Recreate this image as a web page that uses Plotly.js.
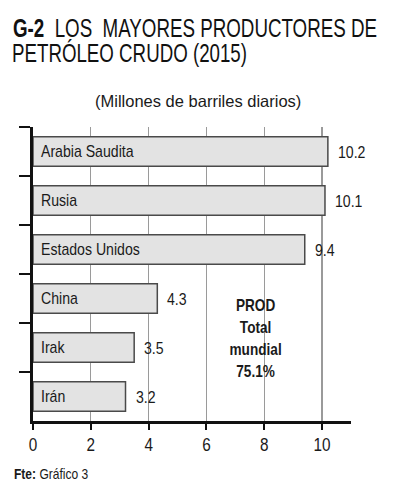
<!DOCTYPE html>
<html>
<head>
<meta charset="utf-8">
<script src="https://cdn.plot.ly/plotly-3.0.1.min.js"></script>
<style>
  html, body { margin: 0; padding: 0; background: #fff; }
  #chart { width: 394px; height: 500px; }
</style>
</head>
<body>
<div id="chart"></div>
<script>
const countries = ["Arabia Saudita", "Rusia", "Estados Unidos", "China", "Irak", "Irán"];
const production = [10.2, 10.1, 9.4, 4.3, 3.5, 3.2];
const valueLabels = ["10.2", "10.1", "9.4", "4.3", "3.5", "3.2"];
const xTicks = [0, 2, 4, 6, 8, 10];
const xTickLabels = ["0", "2", "4", "6", "8", "10"];

const FONT = '"Liberation Sans", Arial, Helvetica, sans-serif';

const trace = {
  type: 'bar',
  orientation: 'h',
  y: countries,
  x: production,
  width: 0.6,
  marker: { color: '#e3e3e3', line: { color: '#4a4a4a', width: 1.5 } },
  hoverinfo: 'skip'
};

const annotations = [];
countries.forEach((c, i) => {
  annotations.push({
    x: 0, y: c, xref: 'x', yref: 'y', text: c, showarrow: false,
    xanchor: 'left', yanchor: 'middle', align: 'left', xshift: 6,
    font: { family: FONT, size: 17, color: '#1a1a1a' }, name: 'cond'
  });
  annotations.push({
    x: production[i], y: c, xref: 'x', yref: 'y', text: valueLabels[i], showarrow: false,
    xanchor: 'left', yanchor: 'middle', align: 'left', xshift: 8, yshift: -1,
    font: { family: FONT, size: 17, color: '#1a1a1a' }, name: 'cond'
  });
});

annotations.push({
  xref: 'paper', yref: 'paper', x: (9 - 32.5) / 318.5, y: 1 + (127 - 53) / 294, xanchor: 'left', yanchor: 'middle',
  align: 'left', text: 'PETRÓLEO CRUDO (2015)', showarrow: false,
  font: { family: FONT, size: 26, color: '#111' }, name: 'title2'
});
annotations.push({
  xref: 'paper', yref: 'paper', x: (197.5 - 32.5) / 318.5, y: 1 + (127 - 101) / 294, xanchor: 'center', yanchor: 'middle',
  text: '(Millones de barriles diarios)', showarrow: false,
  font: { family: FONT, size: 16.5, color: '#1a1a1a' }, name: 'plain'
});
annotations.push({
  xref: 'x', yref: 'paper', x: 7.69, y: 1 - (338.5 - 127) / 294, xanchor: 'center', yanchor: 'middle',
  text: '<b>PROD<br>Total<br>mundial<br>75.1%</b>', showarrow: false,
  font: { family: FONT, size: 17, color: '#1a1a1a' }, name: 'block'
});
annotations.push({
  xref: 'paper', yref: 'paper', x: (11.5 - 32.5) / 318.5, y: -(474 - 421) / 294, xanchor: 'left', yanchor: 'middle',
  align: 'left', text: '<b>Fte:</b> Gráfico 3', showarrow: false,
  font: { family: FONT, size: 14.5, color: '#1a1a1a' }, name: 'cond'
});

const layout = {
  width: 394, height: 500,
  margin: { l: 32.5, r: 43, t: 127, b: 79, pad: 0 },
  paper_bgcolor: '#ffffff', plot_bgcolor: '#ffffff',
  showlegend: false,
  title: {
    text: '<b>G-2</b>\u00a0 LOS\u00a0 MAYORES PRODUCTORES DE',
    xref: 'container', yref: 'container', x: 13 / 394, xanchor: 'left',
    y: 1 - 28 / 500, yanchor: 'middle',
    font: { family: FONT, size: 26, color: '#111' }
  },
  xaxis: {
    range: [0, 11], tickvals: xTicks, ticktext: xTickLabels,
    showgrid: true, gridcolor: '#9a9a9a', gridwidth: 1.3,
    zeroline: false, showline: true, linecolor: '#111', linewidth: 3,
    ticks: 'outside', ticklen: 6, tickwidth: 2, tickcolor: '#111',
    tickfont: { family: FONT, size: 18, color: '#1a1a1a' },
    fixedrange: true
  },
  yaxis: {
    type: 'category', categoryorder: 'array', categoryarray: countries,
    autorange: 'reversed', showticklabels: false,
    tickson: 'boundaries', ticks: 'outside', ticklen: 11, tickwidth: 2, tickcolor: '#111',
    showgrid: false, zeroline: false, showline: true, linecolor: '#111', linewidth: 3,
    fixedrange: true
  },
  annotations: annotations
};

// Condense glyphs horizontally to mimic a condensed Helvetica (text stays real SVG text).
function squeeze(el, factor) {
  const len = el.getComputedTextLength();
  if (len > 0) {
    el.setAttribute('textLength', (len * factor).toFixed(2));
    el.setAttribute('lengthAdjust', 'spacingAndGlyphs');
  }
}
function squeezeTo(el, width) {
  el.setAttribute('textLength', width);
  el.setAttribute('lengthAdjust', 'spacingAndGlyphs');
}

Plotly.newPlot('chart', [trace], layout, { displayModeBar: false, staticPlot: true }).then(gd => {
  const annEls = gd.querySelectorAll('.annotation');
  annEls.forEach((g, idx) => {
    const opt = layout.annotations[idx];
    const txt = g.querySelector('text.annotation-text');
    if (!txt || !opt) return;
    if (opt.name === 'cond') squeeze(txt, 0.83);
    else if (opt.name === 'title2') squeezeTo(txt, 235);
    else if (opt.name === 'block') {
      const lines = txt.querySelectorAll('tspan.line');
      if (lines.length) lines.forEach(l => squeeze(l, 0.8));
      else squeeze(txt, 0.8);
    }
  });
  const title = gd.querySelector('.gtitle');
  if (title) squeezeTo(title, 364);
  // keep x tick labels a fixed distance below the axis line
  const top = gd.getBoundingClientRect().top;
  gd.querySelectorAll('.xtick text').forEach(t => {
    squeeze(t, 0.85);
    const r = t.getBoundingClientRect();
    const centre = r.top - top + r.height / 2;
    const delta = 445 - centre;
    const y0 = parseFloat(t.getAttribute('y') || '0');
    t.setAttribute('y', (y0 + delta).toFixed(2));
  });
});
</script>
</body>
</html>
